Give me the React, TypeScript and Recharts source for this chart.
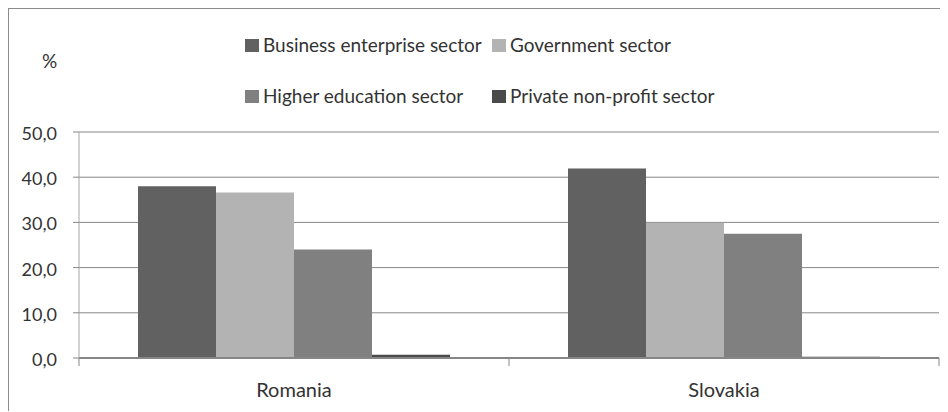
import { Bar, BarChart, CartesianGrid, XAxis, YAxis } from 'recharts';

const countries = ['Romania', 'Slovakia'];
const business = [38.0, 41.9];
const government = [36.6, 29.9];
const higherEducation = [24.0, 27.5];
const privateNonProfit = [0.7, 0.3];
const yTicks = [0, 10, 20, 30, 40, 50];

const seriesKeys = ['business', 'government', 'higher', 'private'];
const seriesNames = [
  'Business enterprise sector',
  'Government sector',
  'Higher education sector',
  'Private non-profit sector',
];
const seriesColors = ['#616161', '#b3b3b3', '#808080', '#4a4a4a'];

const data = countries.map((country, i) => ({
  country,
  business: business[i],
  government: government[i],
  higher: higherEducation[i],
  private: privateNonProfit[i],
}));

const W = 938;
const H = 402;
const M = { top: 123, right: 8, left: 0, bottom: 0 };
const Y_W = 70;
const FONT = 'Lato, "Open Sans", sans-serif';
const TEXT = '#333';

const halfBand = (W - M.right - Y_W) / countries.length / 2;

function XTick(props: any) {
  const { x, y, payload, index } = props;
  return (
    <g>
      <line x1={x - halfBand} x2={x - halfBand} y1={y} y2={y + 8} stroke="#868686" />
      {index === countries.length - 1 && (
        <line x1={x + halfBand} x2={x + halfBand} y1={y} y2={y + 8} stroke="#868686" />
      )}
      <text x={x} y={y + 39} textAnchor="middle" fill={TEXT} fontSize={20} fontFamily={FONT}>
        {payload.value}
      </text>
    </g>
  );
}

function YTick(props: any) {
  const { x, y, payload } = props;
  return (
    <text x={x} y={y + 8} textAnchor="end" fill={TEXT} fontSize={18} fontFamily={FONT}>
      {Number(payload.value).toFixed(1).replace('.', ',')}
    </text>
  );
}

function LegendOverlay() {
  const colX = [236, 483];
  const rowY = [30, 81];
  return (
    <svg width={W} height={H} style={{ position: 'absolute', left: 0, top: 0, pointerEvents: 'none' }}>
      <text x={33} y={59} fill={TEXT} fontSize={19} fontFamily={FONT}>%</text>
      {seriesNames.map((name, i) => {
        const x = colX[i % 2];
        const y = rowY[Math.floor(i / 2)];
        return (
          <g key={name}>
            <rect x={x} y={y} width={14} height={13} fill={seriesColors[i]} />
            <text x={x + 18} y={y + 13} fill={TEXT} fontSize={19} fontFamily={FONT}>
              {name}
            </text>
          </g>
        );
      })}
    </svg>
  );
}

export default function App() {
  return (
    <div
      style={{
        position: 'relative',
        width: W + 2,
        height: H + 2,
        marginLeft: -1,
        marginTop: -1,
        borderLeft: '2px solid #8c8c8c',
        borderTop: '2px solid #8c8c8c',
        boxSizing: 'border-box',
        background: '#fff',
      }}
    >
      <BarChart width={W} height={H} data={data} margin={M} barCategoryGap={59} barGap={0}>
        <CartesianGrid horizontal vertical={false} stroke="#868686" />
        <XAxis
          dataKey="country"
          height={H - M.top - 226}
          tickLine={false}
          tickSize={0}
          tickMargin={0}
          tick={<XTick />}
          axisLine={{ stroke: '#868686', strokeWidth: 2 }}
          interval={0}
        />
        <YAxis
          width={Y_W}
          domain={[0, 50]}
          ticks={yTicks}
          tickSize={6}
          tickMargin={16}
          tickLine={{ stroke: '#868686' }}
          axisLine={{ stroke: '#a6a6a6' }}
          tick={<YTick />}
        />
        {seriesKeys.map((key, i) => (
          <Bar key={key} dataKey={key} name={seriesNames[i]} fill={seriesColors[i]} isAnimationActive={false} />
        ))}
      </BarChart>
      <LegendOverlay />
    </div>
  );
}
